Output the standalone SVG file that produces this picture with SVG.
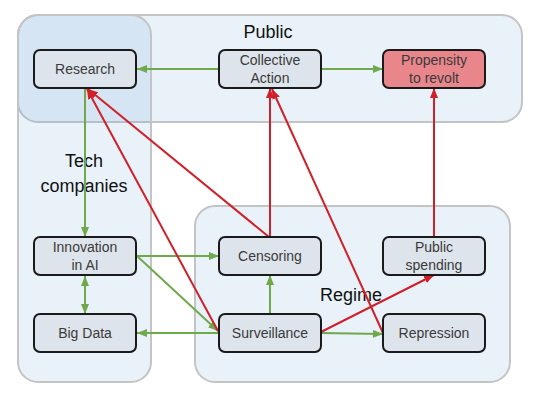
<svg xmlns="http://www.w3.org/2000/svg" width="537" height="404" viewBox="0 0 537 404">
<defs>
<style>
.grp{fill:#629bd4;fill-opacity:0.14;stroke:#c4c4c4;stroke-width:2}
.node rect{fill:#dee4eb;stroke:#1a1a1a;stroke-width:2}
.node text{font-family:"Liberation Sans",Arial,sans-serif;font-size:14px;fill:#3a3a3a;text-anchor:middle}
.glabel{font-family:"Liberation Sans",Arial,sans-serif;font-size:18px;fill:#111;text-anchor:middle}
.g{stroke:#70a84c;stroke-width:2;fill:none;marker-end:url(#ag)}
.r{stroke:#d0202a;stroke-width:2;fill:none;marker-end:url(#ar)}
</style>
<marker id="ag" markerUnits="userSpaceOnUse" markerWidth="10" markerHeight="8" refX="10" refY="4" orient="auto"><path d="M0,0 L10,4 L0,8 z" fill="#70a84c"/></marker>
<marker id="ags" markerUnits="userSpaceOnUse" markerWidth="10" markerHeight="8" refX="0" refY="4" orient="auto"><path d="M10,0 L0,4 L10,8 z" fill="#70a84c"/></marker>
<marker id="ar" markerUnits="userSpaceOnUse" markerWidth="10" markerHeight="8" refX="10" refY="4" orient="auto"><path d="M0,0 L10,4 L0,8 z" fill="#d0202a"/></marker>
</defs>
<rect width="537" height="404" fill="#ffffff"/>
<g id="group-public">
<rect class="grp" x="18" y="15" width="504" height="107" rx="20"/>
<text class="glabel" x="268" y="38">Public</text>
</g>
<g id="group-tech">
<rect class="grp" x="18" y="15" width="133" height="367" rx="20"/>
<text class="glabel" x="84" y="167">Tech</text>
<text class="glabel" x="84" y="192">companies</text>
</g>
<g id="group-regime">
<rect class="grp" x="195" y="206" width="315" height="176" rx="20"/>
<text class="glabel" x="351" y="301">Regime</text>
</g>
<g id="connectors">
<line class="g" x1="219" y1="69" x2="137" y2="69"/>
<line class="g" x1="321" y1="69" x2="383" y2="69"/>
<line class="g" x1="85" y1="88" x2="85" y2="237"/>
<line class="g" x1="85" y1="276" x2="85" y2="314" marker-start="url(#ags)"/>
<line class="g" x1="137" y1="256" x2="219" y2="256"/>
<line class="g" x1="137" y1="256" x2="218" y2="331"/>
<line class="g" x1="219" y1="333" x2="137" y2="333"/>
<line class="g" x1="270" y1="314" x2="270" y2="275"/>
<line class="g" x1="321" y1="333" x2="383" y2="334"/>
<line class="r" x1="218" y1="331" x2="87" y2="89"/>
<line class="r" x1="269" y1="237" x2="88" y2="89"/>
<line class="r" x1="270" y1="237" x2="270" y2="88"/>
<line class="r" x1="383" y1="333" x2="272" y2="89"/>
<line class="r" x1="321" y1="332" x2="434" y2="275"/>
<line class="r" x1="434" y1="237" x2="434" y2="88"/>
</g>
<g id="research" class="node"><rect x="34" y="50" width="102" height="38" rx="6"/><text x="85" y="74">Research</text></g>
<g id="collective-action" class="node"><rect x="219" y="50" width="102" height="38" rx="6"/><text x="270" y="65">Collective</text><text x="270" y="83">Action</text></g>
<g id="propensity" class="node"><rect x="383" y="50" width="102" height="38" rx="6" style="fill:#e9868c"/><text x="434" y="65">Propensity</text><text x="434" y="83">to revolt</text></g>
<g id="innovation" class="node"><rect x="34" y="237" width="102" height="38" rx="6"/><text x="85" y="252">Innovation</text><text x="85" y="270">in AI</text></g>
<g id="big-data" class="node"><rect x="34" y="314" width="102" height="38" rx="6"/><text x="85" y="338">Big Data</text></g>
<g id="censoring" class="node"><rect x="219" y="237" width="102" height="38" rx="6"/><text x="270" y="261">Censoring</text></g>
<g id="surveillance" class="node"><rect x="219" y="314" width="102" height="38" rx="6"/><text x="270" y="338">Surveillance</text></g>
<g id="public-spending" class="node"><rect x="383" y="237" width="102" height="38" rx="6"/><text x="434" y="252">Public</text><text x="434" y="270">spending</text></g>
<g id="repression" class="node"><rect x="383" y="314" width="102" height="38" rx="6"/><text x="434" y="338">Repression</text></g>
</svg>
